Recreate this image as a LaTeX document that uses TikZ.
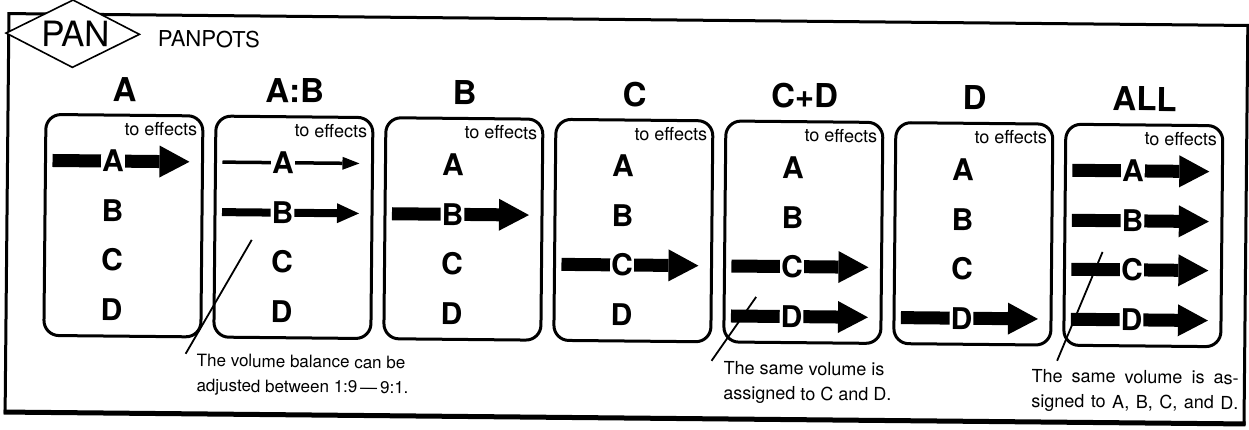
\documentclass[tikz,border=0pt]{standalone}
\usepackage{fontspec}
\setmainfont{TeX Gyre Heros}
\usetikzlibrary{shapes.geometric,arrows.meta,calc}

\tikzset{
  panel/.style={draw, line width=3pt, rounded corners=15pt, minimum width=157pt, minimum height=221pt, inner sep=0pt},
  title/.style={font=\fontsize{33}{36}\selectfont\bfseries, inner sep=0pt},
  chan/.style={font=\fontsize{30}{32}\selectfont\bfseries, fill=white, inner sep=1pt},
  fxlabel/.style={font=\fontsize{18}{19}\selectfont, anchor=base east, inner sep=0pt},
  note/.style={font=\fontsize{18}{25}\selectfont, align=left, anchor=north west, inner ysep=0pt},
  pointer/.style={line width=1.8pt},
  bigflow/.style={line width=13pt, -{Triangle[length=30pt,width=32pt,line width=0pt]}},
  midflow/.style={line width=8pt, -{Triangle[length=22pt,width=20pt,line width=0pt]}},
  thinflow/.style={line width=3.5pt, -{Triangle[length=17pt,width=13pt,line width=0pt]}},
}

\begin{document}
\begin{tikzpicture}[x=1pt,y=-1pt]
\useasboundingbox (0,0) rectangle (1249,430);
\begin{scope}[rotate around={-0.55:(624.5,215)}, transform shape]
% frame and heading
\draw[line width=3pt] (7,19.5) rectangle (1246,418);
\draw[line width=5pt] (5.5,418) -- (1247.5,418);
\node[draw, diamond, aspect=2, line width=1.6pt, fill=white, minimum width=134pt, minimum height=68pt, inner sep=0pt, font=\fontsize{35}{38}\selectfont] (pan) at (71,39) {\hspace*{6pt}PAN};
\node[font=\fontsize{22}{24}\selectfont, anchor=base west, inner sep=0pt] (panpots) at (156,51) {PANPOTS};

% the seven settings
\foreach \ttl/\flows [count=\i from 0] in {A/{A/bigflow}, A:B/{A/thinflow,B/midflow}, B/{B/bigflow}, C/{C/bigflow}, C+D/{C/bigflow,D/bigflow}, D/{D/bigflow}, ALL/{A/bigflow,B/bigflow,C/bigflow,D/bigflow}}{
  \pgfmathsetmacro\px{123.5+170*\i}
  \node[panel] (p\i) at (\px,230.5) {};
  \node[title] (t\i) at (\px,94) {\ttl};
  \node[fxlabel] (fx\i) at (\px+73,140) {to effects};
  \foreach \ch/\ry in {A/166,B/216,C/265,D/315}{
    \coordinate (p\i-\ch-in) at (\px-71.5,\ry);
    \coordinate (p\i-\ch-out) at (\px+65.5,\ry);
  }
  \foreach \ch/\s in \flows
    \draw[\s] (p\i-\ch-in) -- (p\i-\ch-out);
  \foreach \ch/\ry in {A/166,B/216,C/265,D/315}
    \node[chan] (p\i-\ch) at (\px-11,\ry) {\ch};
}

% notes
\coordinate (n1tip) at (252,243.5);
\node[note, font=\fontsize{17}{25}\selectfont, inner xsep=11pt] (n1) at (187,358) {The volume balance can be\\adjusted between 1:9\,—\,9:1.};
\draw[pointer] (n1tip) -- (n1.north west);

\coordinate (n2tip) at (757,295.7);
\node[note, inner xsep=12pt] (n2) at (713,360) {The same volume is\\assigned to C and D.};
\draw[pointer] (n2tip) -- (n2.north west);

\coordinate (n3tip) at (1103,247.4);
\node[note, inner xsep=0pt] (n3) at (1033,365) {\makebox[207pt][s]{The same volume is as-}\\\makebox[207pt][s]{signed to A, B, C, and D.}};
\draw[pointer, shorten >=9pt] (n3tip) -- ($(n3.north west)!0.107!(n3.north east)$);
\end{scope}
\end{tikzpicture}
\end{document}
